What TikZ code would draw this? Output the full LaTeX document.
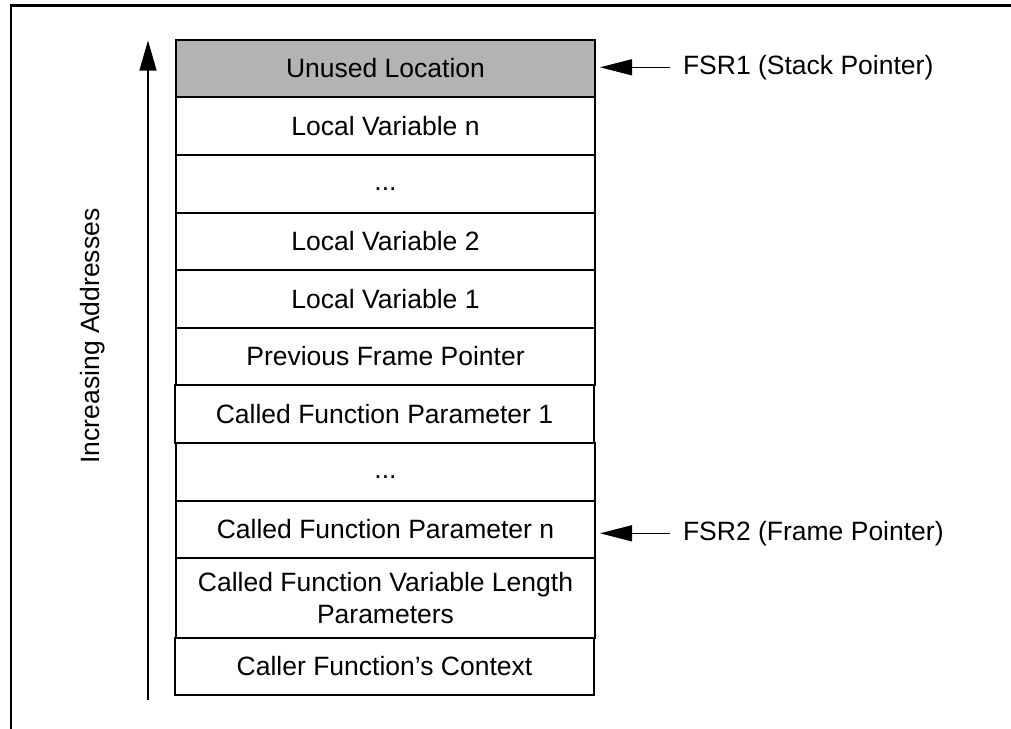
\documentclass[tikz,border=0pt]{standalone}
\usepackage{fontspec}
\setmainfont{Liberation Sans}
\usetikzlibrary{arrows.meta}
\definecolor{usedgray}{RGB}{179,179,179}
\tikzset{
  cell/.style={draw=black, line width=1.3pt, fill=white, minimum width=419pt, inner sep=0pt, outer sep=0pt, align=center, font=\fontsize{26.5}{32}\selectfont},
  lbl/.style={inner sep=0pt, outer sep=0pt, font=\fontsize{26.5}{32}\selectfont},
  ptr/.style={line width=1.2pt, -{Triangle[width=16pt,length=32pt]}},
  upar/.style={line width=1.3pt, -{Triangle[width=17pt,length=30pt]}}
}
\begin{document}
\begin{tikzpicture}[x=1pt,y=-1pt]
\useasboundingbox (0,0) rectangle (1011,728);
\draw[line width=2.5pt] (11,740) -- (11,5.7) -- (1020,5.7);
% stack cells
\node[cell, fill=usedgray, minimum height=57pt] (c1) at (385.5,68.5) {Unused Location};
\node[cell, minimum height=58pt] (c2) at (385.5,126) {Local Variable n};
\node[cell, minimum height=58pt] (c3) at (385.5,184) {\vphantom{Lp}...};
\node[cell, minimum height=57pt] (c4) at (385.5,241.5) {Local Variable 2};
\node[cell, minimum height=58pt] (c5) at (385.5,299) {Local Variable 1};
\node[cell, minimum height=57pt] (c6) at (385.5,356.5) {Previous Frame Pointer};
\node[cell, minimum height=58pt] (c7) at (384.5,414) {Called Function Parameter 1};
\node[cell, minimum height=58pt] (c8) at (385.5,472) {\vphantom{Lp}...};
\node[cell, minimum height=57pt] (c9) at (385.5,529.5) {Called Function Parameter n};
\node[cell, minimum height=80pt] (c10) at (385.5,598) {Called Function Variable Length\\Parameters};
\node[cell, minimum height=57pt] (c11) at (384.5,666.5) {Caller Function’s Context};
% increasing addresses
\coordinate (abot) at (148,700);
\coordinate (atop) at (148,40.5);
\draw[upar] (abot) -- (atop);
\node[lbl, rotate=90] (inc) at (93,336) {Increasing Addresses};
% pointers
\node[lbl, anchor=west] (fsr1) at (683,67.3) {FSR1 (Stack Pointer)};
\node[lbl, anchor=west] (fsr2) at (683,533.3) {FSR2 (Frame Pointer)};
\draw[ptr] ([xshift=-13pt]fsr1.west) -- ([xshift=5pt]c1.east |- fsr1.west);
\draw[ptr] ([xshift=-13pt]fsr2.west) -- ([xshift=5pt]c9.east |- fsr2.west);
\end{tikzpicture}
\end{document}
